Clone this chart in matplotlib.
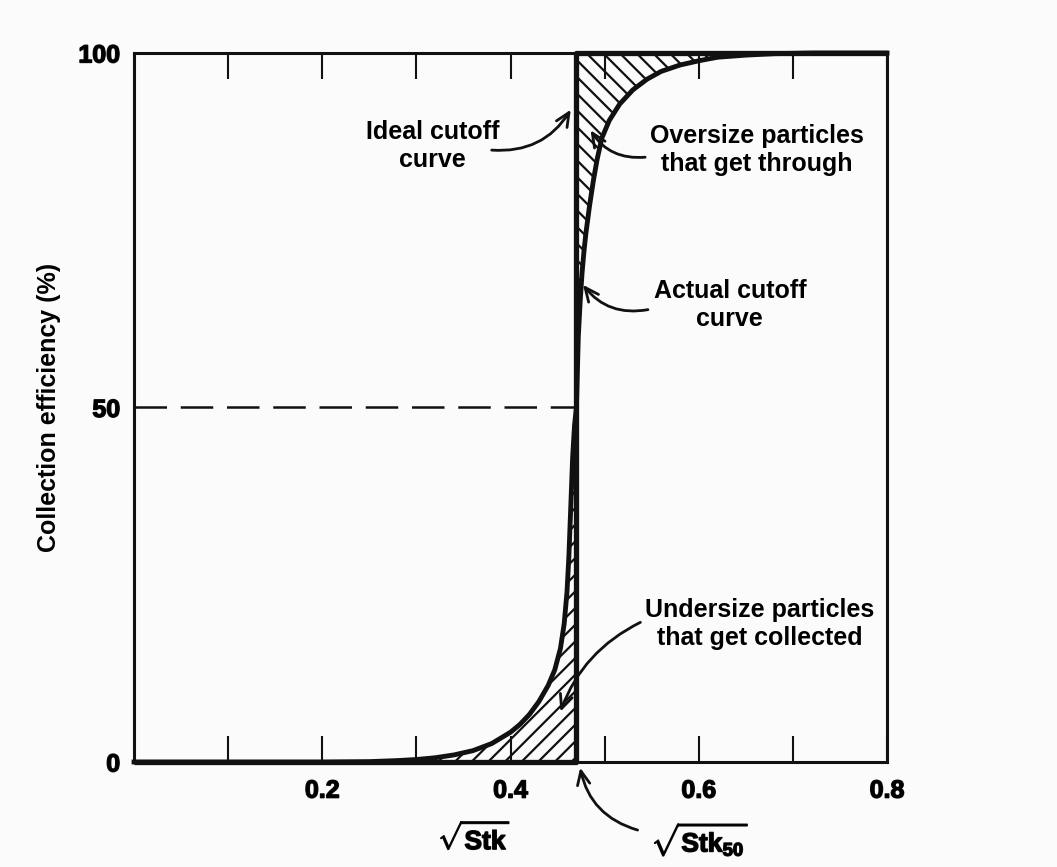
"""
Impactor cutoff: ideal step vs. actual S-shaped collection efficiency curve.
"""

import matplotlib
matplotlib.use("Agg")
import matplotlib.pyplot as plt
import matplotlib.patheffects as pe

# Actual cutoff curve, read as sqrt(Stk) -> collection efficiency (%).
STK_ROOT = [0.0, 0.20, 0.25, 0.28, 0.30, 0.32, 0.34, 0.36, 0.38, 0.40,
            0.41, 0.42, 0.43, 0.44, 0.447, 0.453, 0.457, 0.460, 0.462, 0.464,
            0.466, 0.468, 0.470, 0.471, 0.472, 0.474, 0.476, 0.478, 0.480, 0.484,
            0.488, 0.492, 0.497, 0.505, 0.516, 0.530, 0.545, 0.560, 0.580, 0.600,
            0.620, 0.650, 0.680, 0.720, 0.80]
EFFICIENCY = [0.0, 0.0, 0.05, 0.2, 0.35, 0.6, 1.0, 1.6, 2.6, 4.2,
              5.3, 6.7, 8.5, 10.8, 13.0, 16.0, 19.5, 24.0, 29.0, 36.0,
              43.0, 47.5, 50.0, 55.0, 60.0, 65.0, 69.0, 72.0, 74.5, 78.5,
              82.0, 85.0, 88.0, 90.5, 92.8, 94.8, 96.3, 97.4, 98.3, 98.9,
              99.4, 99.7, 99.9, 100.0, 100.0]

# Ideal (step) cutoff at sqrt(Stk50).
STK50 = 0.47
IDEAL_X = [0.0, STK50, STK50, 0.8]
IDEAL_Y = [0.0, 0.0, 100.0, 100.0]
HALF_EFF = 50.0

XTICKS_MAJOR = [0.2, 0.4, 0.6, 0.8]
XTICK_LABELS = ["0.2", "0.4", "0.6", "0.8"]
XTICKS_MINOR = [0.1, 0.3, 0.5, 0.7]
YTICKS = [0, 50, 100]
YTICK_LABELS = ["0", "50", "100"]

FONT = "Liberation Sans"
plt.rcParams["font.family"] = FONT
plt.rcParams["font.weight"] = "bold"
plt.rcParams["mathtext.fontset"] = "custom"
plt.rcParams["mathtext.rm"] = f"{FONT}:bold"
plt.rcParams["mathtext.it"] = f"{FONT}:bold"
plt.rcParams["mathtext.bf"] = f"{FONT}:bold"
plt.rcParams["hatch.linewidth"] = 1.6

FS = 18
INK = "#111111"
heavy = [pe.withStroke(linewidth=1.0, foreground=INK)]

fig = plt.figure(figsize=(10.57, 8.67), dpi=100, facecolor="#fbfbfb")
ax = fig.add_axes([0.1268, 0.1211, 0.7124, 0.8178])
ax.set_facecolor("#fbfbfb")
ax.set_xlim(0, 0.8)
ax.set_ylim(0, 100)

# hatched areas between the ideal and actual curves
lower = [(x, y) for x, y in zip(STK_ROOT, EFFICIENCY) if y <= HALF_EFF]
upper = [(x, y) for x, y in zip(STK_ROOT, EFFICIENCY) if y >= HALF_EFF]
ax.fill_betweenx([p[1] for p in lower], [p[0] for p in lower], STK50,
                 facecolor="none", edgecolor=INK, hatch="//", linewidth=0)
ax.fill_betweenx([p[1] for p in upper], STK50, [p[0] for p in upper],
                 facecolor="none", edgecolor=INK, hatch="\\\\", linewidth=0)

ax.plot(IDEAL_X, IDEAL_Y, color=INK, lw=3.8, solid_capstyle="butt", clip_on=False)
ax.plot(STK_ROOT, EFFICIENCY, color=INK, lw=3.5, solid_joinstyle="round",
        clip_on=False)
ax.plot([0, STK50], [HALF_EFF, HALF_EFF], color=INK, lw=1.8, dashes=(13, 5.5))

for side in ax.spines.values():
    side.set_linewidth(2.2)
    side.set_color(INK)

ax.set_xticks(XTICKS_MAJOR, XTICK_LABELS)
ax.set_xticks(XTICKS_MINOR, minor=True)
ax.set_yticks(YTICKS, YTICK_LABELS)
ax.tick_params(axis="x", which="both", direction="in", top=True, length=19,
               width=1.5, color=INK, pad=12, labelsize=FS)
ax.tick_params(axis="y", length=0, pad=10, labelsize=FS)
for lab in ax.get_xticklabels() + ax.get_yticklabels():
    lab.set_path_effects(heavy)

ax.text(-0.113, 0.5, "Collection efficiency (%)", transform=ax.transAxes,
        rotation=90, ha="center", va="center", fontsize=FS)
ax.text(0.361, -10.7, r"$\sqrt{\mathrm{Stk}}$", ha="center", va="center",
        fontsize=FS + 1, clip_on=False, path_effects=heavy)
ax.text(0.601, -11.0, r"$\sqrt{\mathrm{Stk}_{50}}$", ha="center", va="center",
        fontsize=FS + 1, clip_on=False, path_effects=heavy)

# callout labels
ax.text(0.317, 86.9, "Ideal cutoff\ncurve", ha="center", va="center", fontsize=FS)
ax.text(0.662, 86.3, "Oversize particles\nthat get through", ha="center",
        va="center", fontsize=FS)
ax.text(0.633, 64.5, "Actual cutoff\ncurve", ha="center", va="center", fontsize=FS)
ax.text(0.665, 19.5, "Undersize particles\nthat get collected", ha="center",
        va="center", fontsize=FS)

arrows = [
    ((0.380, 86.3), (0.464, 92.0), 0.3),
    ((0.543, 85.3), (0.485, 89.1), -0.3),
    ((0.546, 63.8), (0.477, 67.3), -0.3),
    ((0.538, 19.7), (0.453, 7.1), 0.2),
    ((0.535, -9.6), (0.474, -0.8), -0.3),
]
for tail, head, rad in arrows:
    ax.annotate("", xy=head, xytext=tail, annotation_clip=False,
                arrowprops=dict(arrowstyle="->,head_length=0.55,head_width=0.25",
                                connectionstyle=f"arc3,rad={rad}", color=INK,
                                lw=2.0, mutation_scale=FS, shrinkA=0, shrinkB=0))

fig.savefig("out.png", dpi=100, facecolor=fig.get_facecolor())
